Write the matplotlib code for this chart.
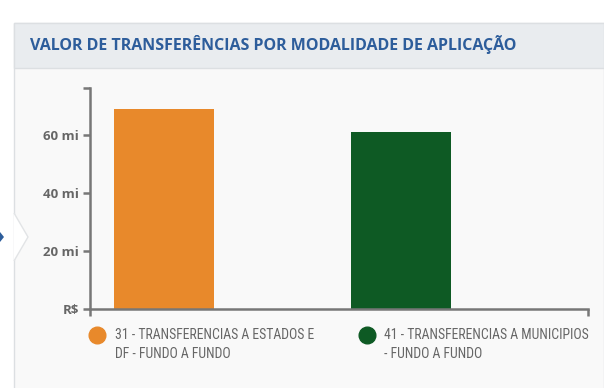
import matplotlib
matplotlib.use('Agg')
import matplotlib.pyplot as plt
import matplotlib.patches as mpatches
import matplotlib.lines as mlines
from matplotlib import font_manager as fm

# ── Données ───────────────────────────────────────────────────────────────────
categorias = ['31 - TRANSFERENCIAS A ESTADOS E\nDF - FUNDO A FUNDO',
              '41 - TRANSFERENCIAS A MUNICIPIOS\n- FUNDO A FUNDO']
valores    = [69.0, 61.0]          # em milhões de R$
cores      = ['#E8892B', '#0E5A24']
yticks     = [0, 20, 40, 60]
ytick_lbl  = ['R$', '20 mi', '40 mi', '60 mi']
titulo     = 'VALOR DE TRANSFERÊNCIAS POR MODALIDADE DE APLICAÇÃO'

# ── Polices ───────────────────────────────────────────────────────────────────
dispo = {f.name for f in fm.fontManager.ttflist}
leg_font = next((f for f in ['Roboto Condensed', 'Liberation Sans Narrow', 'Roboto']
                 if f in dispo), 'DejaVu Sans')

W, H = 604, 388
fig = plt.figure(figsize=(W / 100, H / 100), dpi=100)
fig.patch.set_facecolor('white')

def px(x, y):
    return x / W, 1 - y / H

# Carte + bandeau titre
fig.add_artist(mpatches.Rectangle(px(14, H + 5), (W - 14) / W, (H - 18) / H,
               transform=fig.transFigure, facecolor='#F9F9F9',
               edgecolor='#DCDFE2', linewidth=1, zorder=0))
fig.add_artist(mpatches.Rectangle(px(14, 68), (W - 14) / W, 45 / H,
               transform=fig.transFigure, facecolor='#E9ECEF',
               edgecolor='#DCDFE2', linewidth=1, zorder=0))

# Petit chevron à gauche
chev = [px(14, 213), px(28, 237), px(14, 261)]
fig.add_artist(mpatches.Polygon(chev, closed=False, transform=fig.transFigure,
               facecolor='white', edgecolor='#E2E4E6', linewidth=1, zorder=1))
fig.add_artist(mpatches.Polygon([px(0, 232), px(4, 237), px(0, 242)],
               transform=fig.transFigure, facecolor='#2D5D9B',
               edgecolor='none', zorder=1))

fig.text(*px(30, 45), titulo, ha='left', va='center', fontsize=11.5,
         fontweight='bold', family='Open Sans', color='#2D5D9B')

# ── Axe ───────────────────────────────────────────────────────────────────────
ax = fig.add_axes([90 / W, 79 / H, 498 / W, 221 / H])
ax.set_facecolor('none')
x = list(range(len(valores)))
ax.bar(x, valores, width=0.422, color=cores, zorder=3)
ax.set_xlim(-0.3122, 1.789)
ax.set_ylim(0, 76.2)

ax.set_yticks(yticks + [76.2])
ax.set_yticklabels(ytick_lbl + [''], fontsize=9.5, fontweight='bold',
                   family='Open Sans', color='#666666')
ax.set_xticks([-0.3122, 1.789])
ax.set_xticklabels(['', ''])
ax.tick_params(axis='both', direction='out', length=5, width=1.8,
               color='#777777', pad=3)
for s in ['top', 'right']:
    ax.spines[s].set_visible(False)
for s in ['left', 'bottom']:
    ax.spines[s].set_color('#777777')
    ax.spines[s].set_linewidth(1.8)
ax.spines['bottom'].set_zorder(4)

# ── Légende ───────────────────────────────────────────────────────────────────
leg_pos = [(97, 115), (367, 384)]
for (cx, tx), lab, c in zip(leg_pos, categorias, cores):
    fig.add_artist(mlines.Line2D([cx / W], [1 - 335 / H], marker='o',
                   markersize=12, color=c, linestyle='none',
                   transform=fig.transFigure))
    fig.text(tx / W, 1 - 328 / H, lab, ha='left', va='top', fontsize=9.9,
             family=leg_font, color='#666666', linespacing=1.5)

plt.savefig('out.png', dpi=100, facecolor=fig.get_facecolor())
